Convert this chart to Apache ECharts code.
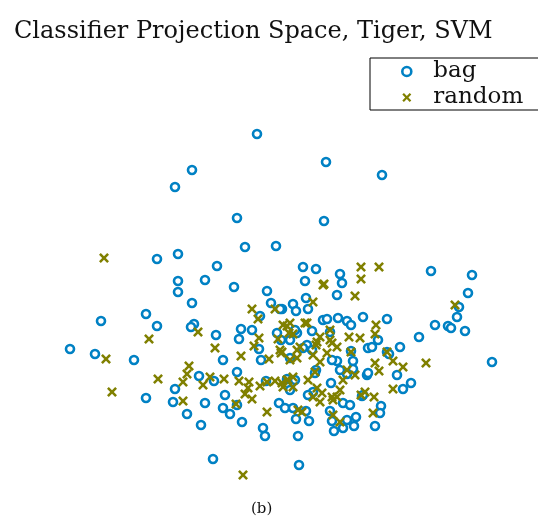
<!DOCTYPE html>
<html>
<head>
<meta charset="utf-8">
<script src="https://cdn.jsdelivr.net/npm/echarts@6/dist/echarts.min.js"></script>
<style>
html,body{margin:0;padding:0;background:#fff;}
#chart{width:538px;height:519px;}
</style>
</head>
<body>
<div id="chart"></div>
<script>
// Projection coordinates, [x, y]
const bagPoints = [
[257,134],[192,170],[175,187],[326,162],[382,175],[237,218],[324,221],[245,247],[276,246],[178,254],
[157,259],[217,266],[303,267],[316,269],[340,274],[431,271],[472,275],[178,281],[205,280],[305,281],
[342,283],[234,287],[267,291],[178,292],[468,293],[337,295],[306,298],[192,303],[271,303],[293,304],
[459,307],[308,309],[282,309],[146,314],[101,321],[157,326],[194,324],[191,327],[216,335],[241,329],
[239,339],[252,330],[280,309],[260,316],[277,333],[281,340],[259,349],[261,360],[70,349],[95,354],
[134,360],[223,360],[199,376],[214,381],[237,372],[175,389],[225,395],[146,398],[173,402],[205,403],
[223,408],[237,405],[230,414],[187,414],[201,425],[242,422],[279,403],[285,408],[263,428],[265,436],
[213,459],[266,381],[296,311],[323,320],[327,319],[338,318],[347,321],[351,325],[363,317],[387,319],
[312,331],[330,332],[297,333],[378,340],[368,348],[400,347],[387,352],[389,354],[419,337],[435,325],
[448,326],[451,328],[457,317],[465,331],[492,362],[307,345],[303,348],[337,361],[353,361],[353,369],
[351,351],[316,370],[367,375],[397,375],[411,383],[403,389],[331,383],[347,374],[362,396],[343,403],
[381,406],[380,413],[375,426],[356,417],[354,426],[347,420],[343,428],[334,431],[330,411],[332,421],
[309,421],[296,419],[306,411],[298,436],[299,465],[290,390],[313,392],[287,379],[295,330],[290,340],
[312,350],[332,360],[368,373],[340,370],[308,395],[350,405],[363,395],[293,408],[372,347],[290,358],
[295,380],[315,373]
];
const randomPoints = [
[104,258],[361,267],[379,267],[361,279],[324,284],[355,296],[313,302],[455,305],[252,309],[275,309],
[258,319],[198,332],[149,339],[215,348],[254,346],[259,338],[278,339],[283,325],[106,359],[241,356],
[269,359],[281,353],[189,366],[187,374],[183,382],[158,379],[203,385],[210,377],[224,379],[239,381],
[249,382],[248,388],[245,394],[252,399],[236,404],[260,386],[267,382],[275,381],[283,387],[287,380],
[112,392],[183,401],[267,412],[243,475],[376,325],[375,334],[349,337],[360,338],[307,323],[290,323],
[287,326],[293,334],[320,337],[330,340],[337,347],[316,345],[351,352],[327,353],[300,347],[282,352],
[290,360],[297,358],[320,362],[313,355],[375,363],[379,371],[393,361],[403,367],[426,363],[355,375],
[343,380],[347,370],[315,372],[308,380],[288,380],[293,387],[317,388],[322,393],[313,397],[320,402],
[332,397],[337,397],[333,400],[340,390],[365,392],[374,397],[361,395],[393,389],[373,413],[333,415],
[340,422],[298,410],[302,412],[282,383],[293,377],[323,285],[330,330],[317,342],[332,343],[387,352],
[280,350],[297,350],[289,333],[305,323]
];
const seriesNames = ['bag', 'random'];
const titleText = 'Classifier Projection Space, Tiger, SVM';
const captionText = '(b)';

const BLUE = '#0081C4';
const OLIVE = '#808000';
const X_PATH = 'path://M0,1.8L1.8,0L5,3.2L8.2,0L10,1.8L6.8,5L10,8.2L8.2,10L5,6.8L1.8,10L0,8.2L3.2,5Z';
const SERIF = '"DejaVu Serif", "Liberation Serif", serif';

const chart = echarts.init(document.getElementById('chart'), null, {renderer: 'canvas'});
chart.setOption({
  animation: false,
  backgroundColor: '#fff',
  title: [
    {text: titleText, left: 9, top: 15, textStyle: {fontFamily: SERIF, fontWeight: 'normal', fontSize: 24, color: '#111'}},
    {text: captionText, left: 246, top: 497, textStyle: {fontFamily: SERIF, fontWeight: 'normal', fontSize: 15, color: '#111'}}
  ],
  legend: {
    orient: 'vertical',
    left: 370, top: 58,
    padding: [2, 120, 1, 31],
    itemGap: 3,
    itemWidth: 9, itemHeight: 9,
    borderColor: '#000', borderWidth: 1,
    textStyle: {fontFamily: SERIF, fontSize: 23, color: '#111', padding: [0,0,0,17]},
    data: [
      {name: seriesNames[0], icon: 'circle', itemStyle: {color: '#fff', borderColor: BLUE, borderWidth: 2.6}},
      {name: seriesNames[1], icon: X_PATH, itemStyle: {color: OLIVE, borderWidth: 0}}
    ]
  },
  grid: {left: 0, right: 0, top: 0, bottom: 0},
  xAxis: {type: 'value', min: 0, max: 538, show: false},
  yAxis: {type: 'value', min: 0, max: 519, inverse: true, show: false},
  series: [
    {
      name: seriesNames[0], type: 'scatter', data: bagPoints,
      symbol: 'circle', symbolSize: 8,
      itemStyle: {color: '#fff', borderColor: BLUE, borderWidth: 2.6, opacity: 1}
    },
    {
      name: seriesNames[1], type: 'scatter', data: randomPoints,
      symbol: X_PATH, symbolSize: 10,
      itemStyle: {color: OLIVE, borderWidth: 0, opacity: 1}
    }
  ]
});
</script>
</body>
</html>
